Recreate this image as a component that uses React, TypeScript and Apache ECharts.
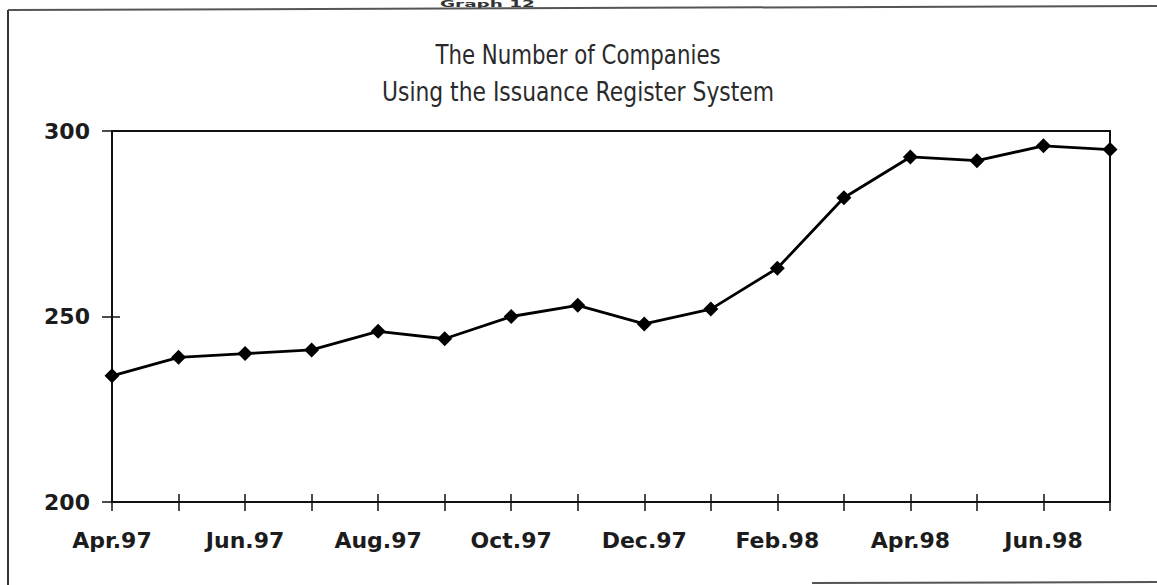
import React, { useEffect, useRef } from "react";
import * as echarts from "echarts";

const months = [
  "Apr.97", "May.97", "Jun.97", "Jul.97", "Aug.97", "Sep.97", "Oct.97", "Nov.97",
  "Dec.97", "Jan.98", "Feb.98", "Mar.98", "Apr.98", "May.98", "Jun.98", "Jul.98",
];
const companies = [234, 239, 240, 241, 246, 244, 250, 253, 248, 252, 263, 282, 293, 292, 296, 295];
const titleLines = ["The Number of Companies", "Using the Issuance Register System"];
const headerText = "Graph 12";
const yMin = 200;
const yMax = 300;
const yStep = 50;

export default function App() {
  const ref = useRef<HTMLDivElement>(null);
  useEffect(() => {
    document.body.style.margin = "0";
    const chart = echarts.init(ref.current!, null, { renderer: "svg" });
    const labelFont = { fontFamily: "DejaVu Sans", fontSize: 22, fontWeight: "bold" as const, color: "#1c1c1c" };
    const titleStyle = {
      fontFamily: "DejaVu Sans",
      fontSize: 27,
      fill: "#2a2a2a",
      align: "center" as const,
      verticalAlign: "middle" as const,
    };
    chart.setOption({
      animation: false,
      backgroundColor: "#ffffff",
      grid: {
        left: 112,
        right: 47,
        top: 131,
        bottom: 83,
        show: true,
        borderColor: "#111",
        borderWidth: 2,
      },
      graphic: [
        {
          type: "text",
          x: 578,
          y: 55,
          scaleX: 0.79,
          style: { ...titleStyle, text: titleLines[0] },
        },
        {
          type: "text",
          x: 578,
          y: 92,
          scaleX: 0.81,
          style: { ...titleStyle, text: titleLines[1] },
        },
        {
          type: "text",
          x: 440,
          y: 0,
          scaleX: 2.3,
          style: {
            text: headerText,
            fontFamily: "DejaVu Sans",
            fontSize: 8,
            fontWeight: "bold",
            fill: "#333",
            verticalAlign: "top",
          },
        },
        {
          type: "line",
          shape: { x1: 8, y1: 10, x2: 8, y2: 585 },
          style: { stroke: "#333", lineWidth: 2 },
        },
        {
          type: "line",
          shape: { x1: 8, y1: 10, x2: 1157, y2: 6 },
          style: { stroke: "#555", lineWidth: 2 },
        },
        {
          type: "line",
          shape: { x1: 812, y1: 583, x2: 1157, y2: 582 },
          style: { stroke: "#555", lineWidth: 2 },
        },
      ],
      xAxis: [
        {
          type: "category",
          data: months,
          boundaryGap: false,
          position: "bottom",
          axisLine: { lineStyle: { color: "#111", width: 2 } },
          axisTick: { interval: 0, length: 9, lineStyle: { color: "#111", width: 1.5 } },
          axisLabel: { ...labelFont, interval: 1, margin: 27 },
          splitLine: { show: false },
        },
        {
          type: "category",
          data: months,
          boundaryGap: false,
          position: "bottom",
          axisLine: { show: false },
          axisTick: { interval: 0, inside: true, length: 8, lineStyle: { color: "#111", width: 1.5 } },
          axisLabel: { show: false },
          splitLine: { show: false },
        },
      ],
      yAxis: [
        {
          type: "value",
          min: yMin,
          max: yMax,
          interval: yStep,
          position: "left",
          axisLine: { show: true, lineStyle: { color: "#111", width: 2 } },
          axisTick: { show: true, length: 10, lineStyle: { color: "#111", width: 1.5 } },
          axisLabel: { ...labelFont, margin: 22 },
          splitLine: { show: false },
        },
        {
          type: "value",
          min: yMin,
          max: yMax,
          interval: yStep,
          position: "left",
          axisLine: { show: false },
          axisTick: { show: true, inside: true, length: 8, lineStyle: { color: "#111", width: 1.5 } },
          axisLabel: { show: false },
          splitLine: { show: false },
        },
      ],
      series: [
        {
          type: "line",
          data: companies,
          xAxisIndex: 0,
          yAxisIndex: 0,
          symbol: "diamond",
          symbolSize: 15,
          itemStyle: { color: "#000" },
          lineStyle: { color: "#000", width: 2.8 },
        },
      ],
    });
    return () => chart.dispose();
  }, []);
  return <div ref={ref} style={{ width: 1157, height: 585 }} />;
}
